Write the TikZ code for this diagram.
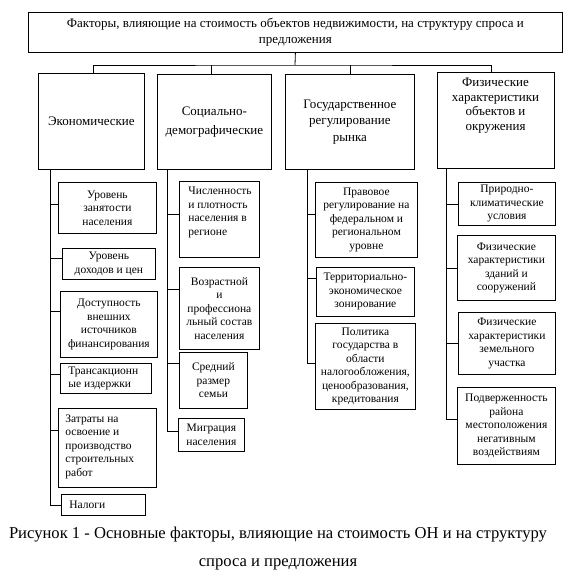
\documentclass[tikz,border=0pt]{standalone}
\usepackage{fontspec}
\setmainfont{Liberation Serif}
\begin{document}
\begin{tikzpicture}[x=1pt,y=-1pt,line width=0.8pt,
  box/.style={draw,inner sep=0pt,anchor=north west,align=center,font=\fontsize{11.5}{13.5}\selectfont},
  lbox/.style={box,align=left},
  cat/.style={draw,inner sep=0pt,anchor=north west,align=center,font=\fontsize{13}{17}\selectfont},
  txt/.style={inner sep=0pt,align=center,font=\fontsize{11.5}{13.5}\selectfont},
  conn/.style={draw,line width=0.8pt}]
\useasboundingbox (0,0) rectangle (579,578);
% top
\node[cat,minimum width=534pt,minimum height=40pt,font=\fontsize{13}{16}\selectfont] (top) at (28,12)
  {Факторы, влияющие на стоимость объектов недвижимости, на структуру спроса и\\предложения};
% categories
\node[cat,minimum width=106pt,minimum height=96pt] (c1) at (38,73) {Экономические};
\node[cat,minimum width=114pt,minimum height=95pt,font=\fontsize{13}{19}\selectfont] (c2) at (157,74) {Социально-\\демографические};
\node[cat,minimum width=129pt,minimum height=95pt,font=\fontsize{13}{16.7}\selectfont] (c3) at (285,74) {Государственное\\регулирование\\рынка};
\node[cat,minimum width=117pt,minimum height=96pt] (c4) at (437,72) {};
\node[txt,anchor=north,font=\fontsize{13}{14.5}\selectfont] (c4t) at (495.5,78) {Физические\\характеристики\\объектов и\\окружения};
% column 1
\node[box,minimum width=98pt,minimum height=51pt] (s11) at (58,182) {Уровень\\занятости\\населения};
\node[box,minimum width=93pt,minimum height=31pt] (s12) at (62,248) {Уровень\\доходов и цен};
\node[box,minimum width=97pt,minimum height=66pt] (s13) at (60,291) {Доступность\\внешних\\источников\\финансирования};
\node[box,minimum width=91pt,minimum height=30pt] (s14) at (60,363) {};
\node[txt,anchor=west,align=left] (s14t) at ([xshift=8pt]s14.west) {Трансакционн\\ые издержки};
\node[box,minimum width=98pt,minimum height=79pt] (s15) at (58,408) {};
\node[txt,anchor=north west,align=left] (s15t) at ([xshift=7pt,yshift=-6pt]s15.north west) {Затраты на\\освоение и\\производство\\строительных\\работ};
\node[box,minimum width=84pt,minimum height=21pt] (s16) at (61,494) {};
\node[txt,anchor=west] (s16t) at ([xshift=8pt]s16.west) {Налоги};
% column 2
\node[box,minimum width=80pt,minimum height=76pt] (s21) at (179,181) {};
\node[txt,anchor=north west,align=left] (s21t) at ([xshift=9pt,yshift=-6pt]s21.north west) {Численность\\и плотность\\населения в\\регионе};
\node[box,minimum width=80pt,minimum height=82pt] (s22) at (179,267) {Возрастной\\и\\профессиона\\льный состав\\населения};
\node[box,minimum width=68pt,minimum height=56pt] (s23) at (179,352) {Средний\\размер\\семьи};
\node[box,minimum width=66pt,minimum height=33pt] (s24) at (178,418) {Миграция\\населения};
% column 3
\node[box,minimum width=102pt,minimum height=75pt] (s31) at (315,182) {Правовое\\регулирование на\\федеральном и\\региональном\\уровне};
\node[box,minimum width=98pt,minimum height=49pt] (s32) at (316,267) {Территориально-\\экономическое\\зонирование};
\node[box,minimum width=100pt,minimum height=86pt] (s33) at (315,323) {Политика\\государства в\\области\\налогообложения,\\ценообразования,\\кредитования};
% column 4
\node[box,minimum width=97pt,minimum height=43pt] (s41) at (458,182) {Природно-\\климатические\\условия};
\node[box,minimum width=98pt,minimum height=65pt] (s42) at (457,235) {Физические\\характеристики\\зданий и\\сооружений};
\node[box,minimum width=97pt,minimum height=62pt] (s43) at (458,312) {Физические\\характеристики\\земельного\\участка};
\node[box,minimum width=98pt,minimum height=77pt] (s44) at (457,387) {Подверженность\\района\\местоположения\\негативным\\воздействиям};
% caption
\node[txt,font=\fontsize{16.6}{28}\selectfont] (cap) at (278,549) {Рисунок 1 - Основные факторы, влияющие на стоимость ОН и на структуру\\спроса и предложения};
% connectors top
\coordinate (hub) at (295,65);
\draw[conn] (top.south) -- (hub);
\draw[conn] ([xshift=1.5pt]c1.north) |- (hub) -| ([xshift=-5pt]c4.north);
\draw[conn] ([xshift=-3.5pt]c2.north) -- ([xshift=-3.5pt]c2.north |- hub);
\draw[conn] (c3.north) -- (c3.north |- hub);
% column trunks
\coordinate (v1) at ([xshift=12pt]c1.south west);
\coordinate (v2) at ([xshift=10pt]c2.south west);
\coordinate (v3) at ([xshift=22pt]c3.south west);
\coordinate (v4) at ([xshift=9pt]c4.south west);
\draw[conn] (v1) |- (s16.west);
\draw[conn] (v2) |- ([yshift=3.5pt]s24.west);
\draw[conn] (v3) |- ([yshift=3pt]s33.west);
\draw[conn] (v4) |- ([yshift=7pt]s44.west);
\foreach \n/\d/\v in {s11/4/v1,s12/6/v1,s13/13/v1,s14/4/v1,s15/18/v1,
  s21/5/v2,s22/19/v2,s23/17/v2,s31/6/v3,s32/14/v3,s41/0/v4,s42/0/v4,s43/0/v4}
  \draw[conn] ([yshift=\d pt]\n.west) -- ([yshift=\d pt]\n.west -| \v);
\end{tikzpicture}
\end{document}
